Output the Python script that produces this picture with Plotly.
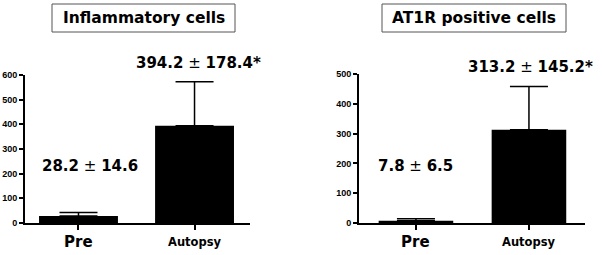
import plotly.graph_objects as go

categories = ["Pre", "Autopsy"]
inflam_mean = [28.2, 394.2]
inflam_sd = [14.6, 178.4]
at1r_mean = [7.8, 313.2]
at1r_sd = [6.5, 145.2]
titles = ["Inflammatory cells", "AT1R positive cells"]
inflam_labels = ["28.2 \u00b1 14.6", "394.2 \u00b1 178.4*"]
at1r_labels = ["7.8 \u00b1 6.5", "313.2 \u00b1 145.2*"]
tickvals_left = [0, 100, 200, 300, 400, 500, 600]
tickvals_right = [0, 100, 200, 300, 400, 500]

FONT = "Liberation Sans, Arial, sans-serif"
BFONT = "DejaVu Sans, sans-serif"
W, H = 602, 255

fig = go.Figure()
for i, (m, s, xa, ya) in enumerate([(inflam_mean, inflam_sd, "x", "y"), (at1r_mean, at1r_sd, "x2", "y2")]):
    fig.add_trace(go.Bar(
        x=[0, 1], y=m, width=0.68 if i == 0 else 0.66,
        marker=dict(color="black", line=dict(width=0)),
        error_y=dict(type="data", array=s, arrayminus=[0, 0], symmetric=False,
                     color="black", thickness=1.5, width=19),
        xaxis=xa, yaxis=ya, showlegend=False, hoverinfo="skip"))

common_x = dict(showline=True, linecolor="black", linewidth=2, ticks="outside",
                ticklen=5, tickwidth=1.5, tickcolor="black", showgrid=False, zeroline=False,
                tickvals=[0, 1], showticklabels=False, automargin=False)
common_y = dict(showline=True, linecolor="black", linewidth=2, ticks="outside",
                ticklen=4, tickwidth=1.5, tickcolor="black", showgrid=False, zeroline=False,
                tickfont=dict(family=FONT, size=9, color="black"), ticklabelstandoff=0,
                automargin=False)

fig.update_layout(
    width=W, height=H, margin=dict(l=0, r=0, t=0, b=0, pad=0, autoexpand=False),
    paper_bgcolor="white", plot_bgcolor="white",
    xaxis=dict(**common_x, domain=[25 / W, 250 / W], range=[-0.461, 1.478], anchor="y"),
    yaxis=dict(**common_y, domain=[32 / H, 180 / H], range=[0, 600], tickvals=tickvals_left,
               ticktext=[f"<b>{v}</b>" for v in tickvals_left], anchor="x"),
    xaxis2=dict(**common_x, domain=[359 / W, 585 / W], range=[-0.504, 1.496], anchor="y2"),
    yaxis2=dict(**common_y, domain=[32 / H, 181 / H], range=[0, 500], tickvals=tickvals_right,
                ticktext=[f"<b>{v}</b>" for v in tickvals_right], anchor="x2"),
)

# Category labels under the bars
for xa in ["x", "x2"]:
    for xi, cat in enumerate(categories):
        fig.add_annotation(x=xi, xref=xa, y=1 - 242 / H, yref="paper", text=f"<b>{cat}</b>",
                           showarrow=False, xanchor="center", yanchor="middle",
                           font=dict(family=BFONT, size=15 if xi == 0 else 11.5, color="black"))

# Titles in boxes
boxes = [(52, 235), (382, 566)]
for (x0, x1), t in zip(boxes, titles):
    fig.add_shape(type="rect", xref="paper", yref="paper", x0=x0 / W, x1=x1 / W,
                  y0=1 - 32 / H, y1=1 - 4 / H, line=dict(color="#555", width=1))
    fig.add_annotation(x=(x0 + x1) / 2 / W, y=1 - 18 / H, xref="paper", yref="paper", text=f"<b>{t}</b>",
                       showarrow=False, font=dict(family=BFONT, size=15.5, color="black"),
                       xanchor="center", yanchor="middle")


def fmt(label):
    a, b = label.split(" \u00b1 ")
    return f"<b>{a}</b> \u00b1 <b>{b}</b>"


# Value labels
lab_pos = [(90, 166, inflam_labels[0]), (198, 63, inflam_labels[1]),
           (415, 166, at1r_labels[0]), (530, 67, at1r_labels[1])]
for x, y, t in lab_pos:
    fig.add_annotation(x=x / W, y=1 - y / H, xref="paper", yref="paper", text=fmt(t),
                       showarrow=False, font=dict(family=BFONT, size=15, color="black"),
                       xanchor="center", yanchor="middle")

fig.write_html("out.html", config={"displayModeBar": False},
               post_script="document.body.style.margin='0';document.body.style.overflow='hidden';")
